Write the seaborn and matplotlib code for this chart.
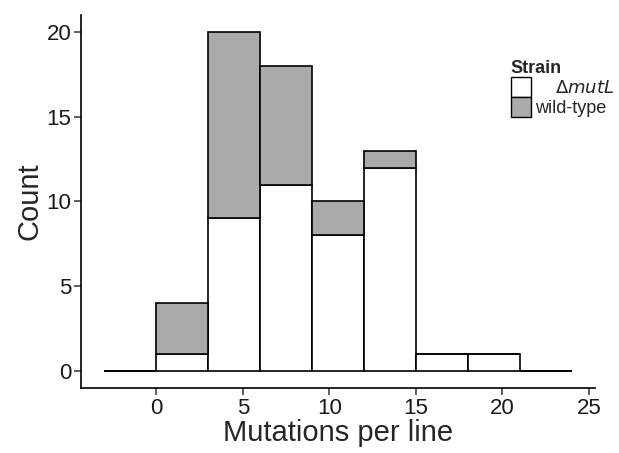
import matplotlib
matplotlib.use("Agg")
import matplotlib.pyplot as plt
import matplotlib.patches as mpatches
import seaborn as sns
import pandas as pd

# binned counts (bin width 3, from -3 to 24)
bin_edges = [-3, 0, 3, 6, 9, 12, 15, 18, 21, 24]
mutl_counts = [0, 1, 9, 11, 8, 12, 1, 1, 0]
wt_counts = [0, 3, 11, 7, 2, 1, 0, 0, 0]
strains = ['wild-type', 'ΔmutL']

centers = [(a + b) / 2 for a, b in zip(bin_edges[:-1], bin_edges[1:])]
df = pd.DataFrame({
    'Mutations': centers * 2,
    'Count': wt_counts + mutl_counts,
    'Strain': [strains[0]] * len(centers) + [strains[1]] * len(centers),
})

sns.set_style("ticks")
plt.rcParams['font.family'] = ['Liberation Sans', 'DejaVu Sans']

fig = plt.figure(figsize=(6.19, 4.53), dpi=100)
ax = fig.add_axes([0.131, 0.1435, 0.83, 0.8235])

# last hue level ends up at the bottom of the stack
sns.histplot(data=df, x='Mutations', weights='Count', hue='Strain',
             hue_order=strains, multiple='stack', bins=bin_edges,
             palette={'wild-type': '#aaaaaa', 'ΔmutL': 'white'},
             edgecolor='black', linewidth=1.2, alpha=1, legend=False, ax=ax)

ax.set_xlim(-4.35, 25.35)
ax.set_ylim(-1, 21)
ax.set_xticks([0, 5, 10, 15, 20, 25])
ax.set_yticks([0, 5, 10, 15, 20])
ax.set_xlabel('Mutations per line', fontsize=21, labelpad=0)
ax.set_ylabel('Count', fontsize=21, labelpad=2)
ax.tick_params(labelsize=16, length=5, width=1.1, colors='#333333',
               labelcolor='#1a1a1a', pad=2)
for s in ['top', 'right']:
    ax.spines[s].set_visible(False)
for s in ['left', 'bottom']:
    ax.spines[s].set_linewidth(1.2)
    ax.spines[s].set_color('black')

handles = [mpatches.Patch(facecolor='white', edgecolor='black', linewidth=1),
           mpatches.Patch(facecolor='#aaaaaa', edgecolor='black', linewidth=1)]
labels = [r'    $\Delta\mathit{mutL}$', 'wild-type']
leg = fig.legend(handles, labels, title='Strain', loc='upper left',
                 bbox_to_anchor=(0.805, 0.895), frameon=False, fontsize=13,
                 labelspacing=0.0, handlelength=1.1, handleheight=1.3,
                 handletextpad=0.25, borderpad=0.2)
leg.get_title().set_fontweight('bold')
leg.get_title().set_fontsize(13)
leg._legend_box.align = 'left'

fig.savefig('out.png', dpi=100)
